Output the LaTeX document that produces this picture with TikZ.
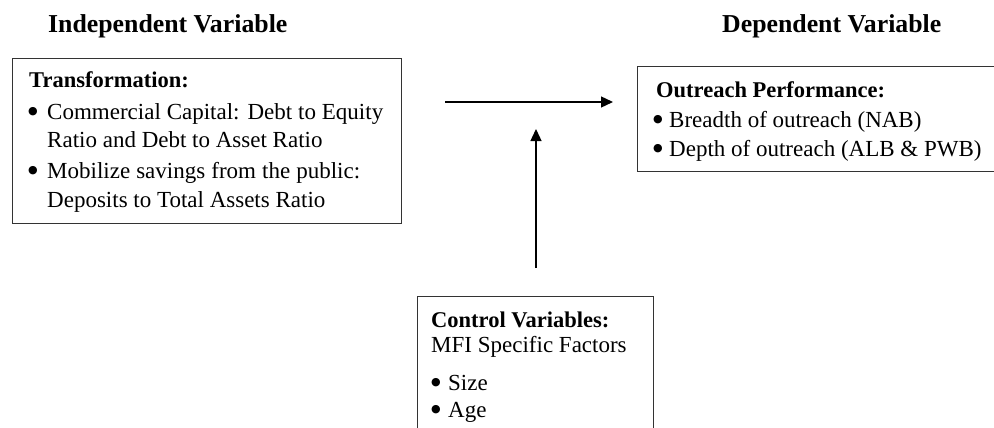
\documentclass[tikz,border=0pt]{standalone}
\usepackage{fontspec}
\setmainfont{Liberation Serif}
\newfontfamily\bulfont{DejaVu Sans}
\usetikzlibrary{arrows.meta}
\newcommand{\bigbul}{{\bulfont\fontsize{11}{12}\selectfont\raisebox{4.4pt}{●}}}
\newcommand{\bulcol}[1]{\makebox[#1][l]{\bigbul}}
\begin{document}
\begin{tikzpicture}[x=1pt,y=-1pt]
\tikzset{
 box/.style={draw=black!80, line width=1.4pt, inner sep=0pt, anchor=north west},
 txt/.style={anchor=base west, inner sep=0pt, font=\fontsize{23}{27}\selectfont},
 btxt/.style={anchor=base west, inner sep=0pt, font=\fontsize{22.5}{27}\selectfont\bfseries},
 head/.style={anchor=base west, inner sep=0pt, font=\fontsize{25.8}{30}\selectfont\bfseries},
 arr/.style={line width=1.3pt, -{Triangle[length=12pt,width=11pt]}}
}
\clip (0,0) rectangle (994,428);
\fill[white] (0,0) rectangle (994,428);
% headings
\node[head] (hind) at (48,33) {Independent Variable};
\node[head] (hdep) at (722,33) {Dependent Variable};
% left box
\node[box, minimum width=389pt, minimum height=165pt] (indep) at (12,58) {};
\node[btxt] (t0) at (29,88) {Transformation:};
\node[txt] (t1) at (28,119) {\bulcol{19pt}\makebox[336pt][s]{Commercial Capital: Debt to Equity}};
\node[txt] (t2) at (47,147) {Ratio and Debt to Asset Ratio};
\node[txt] (t3) at (28,178) {\bulcol{19pt}\makebox[313pt][s]{Mobilize savings from the public:}};
\node[txt] (t4) at (47,207) {Deposits to Total Assets Ratio};
% right box
\node[box, minimum width=400pt, minimum height=105pt] (dep) at (637,66) {};
\node[btxt] (o0) at (656,97) {Outreach Performance:};
\node[txt] (o1) at (653,127) {\bulcol{16pt}Breadth of outreach (NAB)};
\node[txt] (o2) at (653,156) {\bulcol{16pt}Depth of outreach (ALB \& PWB)};
% control box
\node[box, minimum width=236pt, minimum height=150pt] (ctrl) at (417,296) {};
\node[btxt] (c0) at (431,327) {Control Variables:};
\node[txt] (c1) at (431,352) {MFI Specific Factors};
\node[txt] (c2) at (431,390) {\bulcol{17pt}Size};
\node[txt] (c3) at (431,417) {\bulcol{17pt}Age};
% arrows
\coordinate (h1) at (445,102);
\coordinate (h2) at (613,102);
\coordinate (v1) at (536,268);
\coordinate (v2) at (536,129);
\draw[arr] (h1) -- (h2);
\draw[arr] (v1) -- (v2);
\end{tikzpicture}
\end{document}
